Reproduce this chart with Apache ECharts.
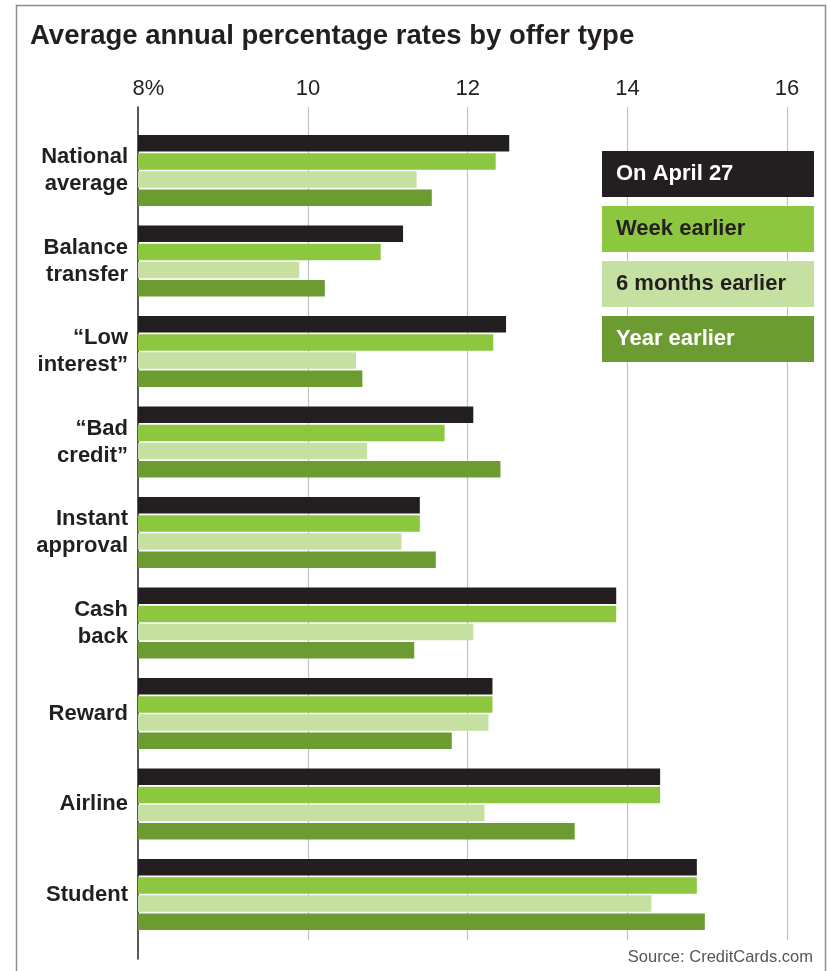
<!DOCTYPE html>
<html><head><meta charset="utf-8">
<script src="https://cdn.jsdelivr.net/npm/echarts@6/dist/echarts.min.js"></script>
<style>html,body{margin:0;padding:0;background:#fff}#c{width:827px;height:971px}</style>
</head><body><div id="c"></div>
<script>
const categories = ['National\naverage','Balance\ntransfer','\u201cLow\ninterest\u201d','\u201cBad\ncredit\u201d','Instant\napproval','Cash\nback','Reward','Airline','Student'];
const seriesNames = ['On April 27','Week earlier','6 months earlier','Year earlier'];
const onApril27 = [12.52,11.19,12.48,12.07,11.40,13.86,12.31,14.41,14.87];
const weekEarlier = [12.35,10.91,12.32,11.71,11.40,13.86,12.31,14.41,14.87];
const sixMonthsEarlier = [11.36,9.89,10.60,10.74,11.17,12.07,12.26,12.21,14.30];
const yearEarlier = [11.55,10.21,10.68,12.41,11.60,11.33,11.80,13.34,14.97];
const tickValues = [8,10,12,14,16];
const gridValues = [10,12,14,16];

const FONT = '"Liberation Sans", Arial, sans-serif';
const colors = ['#231f20','#8dc63f','#c5e0a0','#6b9b31'];
const legendTextColors = ['#ffffff','#231f20','#231f20','#ffffff'];
const seriesData = [onApril27, weekEarlier, sixMonthsEarlier, yearEarlier];
const AX_MIN = 7.87, AX_MAX = 16.4;

const chart = echarts.init(document.getElementById('c'), null, {renderer:'canvas'});
chart.setOption({
  animation: false,
  backgroundColor: '#ffffff',
  title: [
    {text:'Average annual percentage rates by offer type', left:25, top:17,
     textStyle:{fontFamily:FONT, fontSize:27.5, fontWeight:'bold', color:'#231f20'}},
    {text:'Source: CreditCards.com', right:9, top:944,
     textStyle:{fontFamily:FONT, fontSize:16.5, fontWeight:'normal', color:'#555555'}}
  ],
  grid: [
    {left:138, top:125.25, width:681, height:814.5},
    {left:138, top:107, width:681, height:833},
    {left:138, top:107, width:681, height:852}
  ],
  xAxis: [
    {gridIndex:0, type:'value', min:AX_MIN, max:AX_MAX, show:false},
    {gridIndex:1, type:'value', min:AX_MIN, max:AX_MAX, position:'top',
     axisLine:{show:false},
     axisTick:{show:false, customValues:gridValues},
     splitLine:{show:true, lineStyle:{color:'#c4c4c4', width:1.2}},
     axisLabel:{customValues:tickValues, formatter:function(v){return v===8?'8%':String(v);},
       margin:7, fontFamily:FONT, fontSize:22, color:'#231f20'}},
    {gridIndex:2, type:'value', min:0, max:1, show:false}
  ],
  yAxis: [
    {gridIndex:0, type:'category', data:categories, inverse:true,
     axisLine:{show:false}, axisTick:{show:false}, splitLine:{show:false},
     axisLabel:{margin:10, fontFamily:FONT, fontSize:22, fontWeight:'bold', lineHeight:27, color:'#231f20'}},
    {gridIndex:1, type:'value', show:false},
    {gridIndex:2, type:'value', min:0, max:1,
     axisLine:{show:true, onZero:false, lineStyle:{color:'#231f20', width:1.5}},
     axisTick:{show:false}, axisLabel:{show:false}, splitLine:{show:false}}
  ],
  legend: {
    orient:'vertical', left:597, top:151, padding:0, itemGap:9, itemWidth:0, itemHeight:46,
    icon:'none', selectedMode:false,
    data: seriesNames.map(function(n,i){
      return {name:n, textStyle:{backgroundColor:colors[i], color:legendTextColors[i],
        width:198, height:46, lineHeight:46, padding:[0,0,0,14],
        fontSize:22, fontWeight:'bold', fontFamily:FONT}};
    })
  },
  graphic: [
    {type:'rect', silent:true, z:-1, shape:{x:16.5, y:5.5, width:809, height:1000},
     style:{fill:'none', stroke:'#8c8c8c', lineWidth:1.5}}
  ],
  series: seriesNames.map(function(n,i){
    return {name:n, type:'bar', xAxisIndex:0, yAxisIndex:0, data:seriesData[i],
      barWidth:16.5, barGap:'10%', itemStyle:{color:colors[i]}};
  })
});
</script></body></html>
